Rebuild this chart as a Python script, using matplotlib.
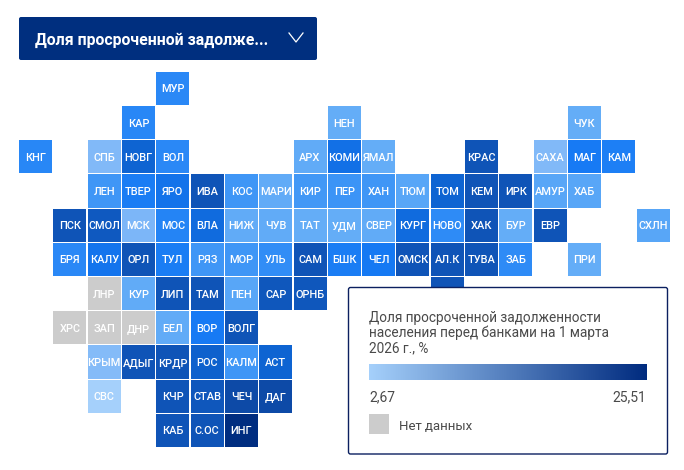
import numpy as np
import matplotlib
matplotlib.use("Agg")
import matplotlib.pyplot as plt
from matplotlib.colors import LinearSegmentedColormap, Normalize
from matplotlib.patches import FancyBboxPatch, Rectangle

plt.rcParams['font.family'] = ['Roboto', 'DejaVu Sans']

W, H = 684, 470
# Tile map: region code, grid column, grid row, estimated value (None = no data)
regions = ["МУР",
           "КАР", "НЕН", "ЧУК",
           "КНГ", "СПБ", "НОВГ", "ВОЛ", "АРХ", "КОМИ", "ЯМАЛ", "КРАС", "САХА", "МАГ", "КАМ",
           "ЛЕН", "ТВЕР", "ЯРО", "ИВА", "КОС", "МАРИ", "КИР", "ПЕР", "ХАН", "ТЮМ", "ТОМ", "КЕМ", "ИРК", "АМУР", "ХАБ",
           "ПСК", "СМОЛ", "МСК", "МОС", "ВЛА", "НИЖ", "ЧУВ", "ТАТ", "УДМ", "СВЕР", "КУРГ", "НОВО", "ХАК", "БУР", "ЕВР", "СХЛН",
           "БРЯ", "КАЛУ", "ОРЛ", "ТУЛ", "РЯЗ", "МОР", "УЛЬ", "САМ", "БШК", "ЧЕЛ", "ОМСК", "АЛ.К", "ТУВА", "ЗАБ", "ПРИ",
           "ЛНР", "КУР", "ЛИП", "ТАМ", "ПЕН", "САР", "ОРНБ", "",
           "ХРС", "ЗАП", "ДНР", "БЕЛ", "ВОР", "ВОЛГ",
           "КРЫМ", "АДЫГ", "КРДР", "РОС", "КАЛМ", "АСТ",
           "СВС", "КЧР", "СТАВ", "ЧЕЧ", "ДАГ",
           "КАБ", "С.ОС", "ИНГ"]
cols = [4,
        3, 9, 16,
        0, 2, 3, 4, 8, 9, 10, 13, 15, 16, 17,
        2, 3, 4, 5, 6, 7, 8, 9, 10, 11, 12, 13, 14, 15, 16,
        1, 2, 3, 4, 5, 6, 7, 8, 9, 10, 11, 12, 13, 14, 15, 18,
        1, 2, 3, 4, 5, 6, 7, 8, 9, 10, 11, 12, 13, 14, 16,
        2, 3, 4, 5, 6, 7, 8, 12,
        1, 2, 3, 4, 5, 6,
        2, 3, 4, 5, 6, 7,
        2, 4, 5, 6, 7,
        4, 5, 6]
rows = [0,
        1, 1, 1,
        2, 2, 2, 2, 2, 2, 2, 2, 2, 2, 2,
        *[3] * 15,
        *[4] * 16,
        *[5] * 15,
        *[6] * 8,
        *[7] * 6,
        *[8] * 6,
        *[9] * 5,
        *[10] * 3]
values = [9.2,
          9.3, 6.0, 6.0,
          9.3, 4.6, 13.0, 9.2, 6.2, 11.5, 6.0, 16.0, 4.6, 10.4, 10.0,
          8.0, 10.2, 11.2, 16.0, 8.0, 6.2, 7.8, 8.2, 8.0, 6.6, 13.0, 16.0, 16.0, 6.6, 6.6,
          16.0, 15.0, 4.9, 9.6, 12.0, 6.2, 6.2, 6.0, 6.0, 6.2, 12.0, 9.0, 16.0, 6.0, 16.0, 6.6,
          9.2, 11.0, 16.0, 10.2, 8.0, 8.0, 8.8, 16.0, 10.2, 10.6, 16.0, 16.0, 16.0, 9.0, 6.0,
          None, 6.2, 16.0, 16.0, 6.6, 15.5, 15.5, 16.0,
          None, None, None, 6.2, 10.4, 16.0,
          4.4, 16.0, 16.0, 13.5, 8.0, 13.0,
          2.67, 16.0, 15.5, 18.0, 18.0,
          16.0, 16.0, 25.51]

legend_title = "Доля просроченной задолженности\nнаселения перед банками на 1 марта\n2026 г., %"
header_text = "Доля просроченной задолже..."
vmin, vmax = 2.67, 25.51

node_vals = [2.67, 4.6, 6.0, 8.0, 9.2, 10.5, 12.5, 16.0, 19.0, 25.51]
node_cols = ["#a5d0fb", "#80b8f8", "#64adf7", "#3e95f6", "#2a88f6", "#1579f4",
             "#0e66d6", "#0f54b7", "#0c459f", "#002d80"]
tile_cmap = LinearSegmentedColormap.from_list(
    "tiles", [((v - vmin) / (vmax - vmin), c) for v, c in zip(node_vals, node_cols)])
norm = Normalize(vmin, vmax)
legend_cmap = LinearSegmentedColormap.from_list("legend", ["#a5d0fb", "#002b7f"])

fig = plt.figure(figsize=(W / 100, H / 100), dpi=100, facecolor="white")

# Pixel-space overlay for the UI elements
ui = fig.add_axes([0, 0, 1, 1], zorder=3)
ui.set_xlim(0, W); ui.set_ylim(H, 0); ui.axis("off"); ui.patch.set_alpha(0)

# Tile grid axes
pitch_x, pitch_y = 34.3, 34.2
x0, y0 = 18.5, 71.3
n_c, n_r = 19, 11
ax = fig.add_axes([x0 / W, 1 - (y0 + n_r * pitch_y) / H, n_c * pitch_x / W, n_r * pitch_y / H], zorder=1)
ax.set_xlim(0, n_c); ax.set_ylim(n_r, 0); ax.axis("off")

colors = ["#cccccc" if v is None else tile_cmap(norm(v)) for v in values]
ax.bar(np.array(cols) + 0.5, height=0.965, width=0.965, bottom=np.array(rows) + 0.0175,
       color=colors, linewidth=0)
for name, c, r in zip(regions, cols, rows):
    if name:
        ax.text(c + 0.5, r + 0.5, name, color="white", ha="center", va="center_baseline",
                fontsize=7.9, fontweight="medium")

# Header dropdown
ui.add_patch(FancyBboxPatch((21, 19), 294, 39, boxstyle="round,pad=2,rounding_size=2",
                            fc="#002f7f", ec="none"))
ui.text(35, 38.5, header_text, color="white", fontsize=11.45, fontweight="bold",
        ha="left", va="center_baseline")
ui.plot([289, 296, 303], [33, 42, 33], color="white", lw=0.9)

# Legend box
ui.add_patch(FancyBboxPatch((350, 289), 316, 163.5, boxstyle="round,pad=1.5,rounding_size=2",
                            fc="white", ec="#0b2060", lw=1))
ui.text(369, 333, legend_title, color="#4a4a4a", fontsize=9.8, ha="left", va="center",
        linespacing=1.08)
ui.imshow(np.linspace(vmin, vmax, 256)[None, :], cmap=legend_cmap, norm=norm, aspect="auto",
          extent=(369, 647, 380, 364), zorder=4)
ui.set_xlim(0, W); ui.set_ylim(H, 0)
ui.text(369, 396, f"{vmin:.2f}".replace(".", ","), color="#4a4a4a", fontsize=10,
        ha="left", va="center_baseline")
ui.text(646, 396, f"{vmax:.2f}".replace(".", ","), color="#4a4a4a", fontsize=10,
        ha="right", va="center_baseline")
ui.add_patch(Rectangle((369, 414), 20, 20, fc="#cccccc", ec="none"))
ui.text(399, 424.5, "Нет данных", color="#4a4a4a", fontsize=9.5, ha="left", va="center_baseline")

fig.savefig("out.png", dpi=100)
